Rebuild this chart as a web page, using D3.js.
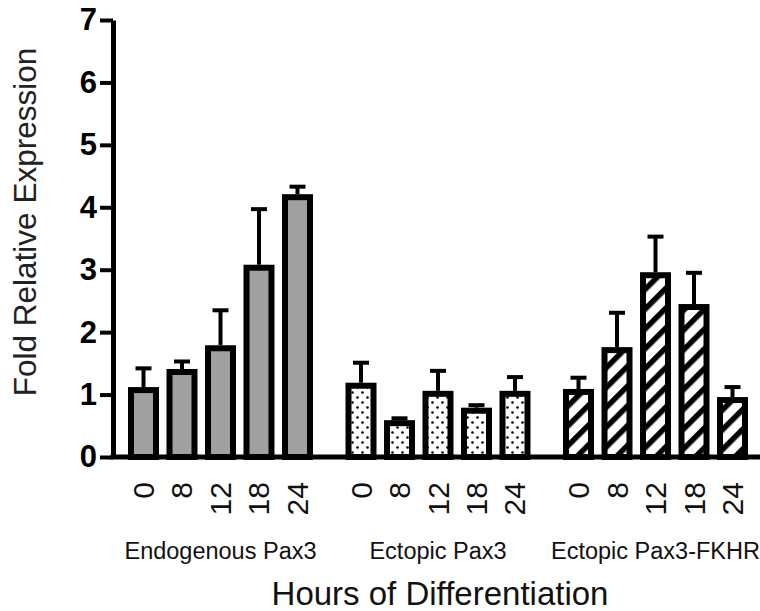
<!DOCTYPE html>
<html>
<head>
<meta charset="utf-8">
<script src="https://cdn.jsdelivr.net/npm/d3@7"></script>
<style>
  body { margin: 0; background: #fff; }
  text { font-family: "Liberation Sans", Arial, sans-serif; }
</style>
</head>
<body>
<script>
// Data
let groups = ['Endogenous Pax3', 'Ectopic Pax3', 'Ectopic Pax3-FKHR'];
let hours = ['0', '8', '12', '18', '24'];
let endogenousMean = [1.12, 1.41, 1.79, 3.08, 4.21];
let endogenousErr = [0.30, 0.12, 0.56, 0.89, 0.12];
let ectopicMean = [1.19, 0.59, 1.06, 0.79, 1.06];
let ectopicErr = [0.32, 0.03, 0.32, 0.04, 0.22];
let fkhrMean = [1.09, 1.76, 2.96, 2.45, 0.96];
let fkhrErr = [0.18, 0.55, 0.57, 0.50, 0.16];
let yTicks = [0, 1, 2, 3, 4, 5, 6, 7];

let means = [endogenousMean, ectopicMean, fkhrMean];
let errs = [endogenousErr, ectopicErr, fkhrErr];
let fills = ['#a0a0a0', 'url(#dots)', 'url(#hatch)'];

let data = [];
groups.forEach((g, gi) => {
    hours.forEach((h, hi) => {
        data.push({ group: g, hour: h, value: means[gi][hi], err: errs[gi][hi], fill: fills[gi] });
    });
});

let width = 760, height = 611;
let axisX = 113;
let barStroke = 6;

let svg = d3
    .select('body')
    .append('svg')
    .attr('width', width)
    .attr('height', height);

// Patterns
let defs = svg.append('defs');

let dots = defs.append('pattern')
    .attr('id', 'dots')
    .attr('patternUnits', 'userSpaceOnUse')
    .attr('width', 10)
    .attr('height', 10);
dots.append('rect').attr('width', 10).attr('height', 10).attr('fill', '#fff');
dots.append('circle').attr('cx', 2.5).attr('cy', 2.5).attr('r', 1.3).attr('fill', '#000');
dots.append('circle').attr('cx', 7.5).attr('cy', 7.5).attr('r', 1.3).attr('fill', '#000');

let hatch = defs.append('pattern')
    .attr('id', 'hatch')
    .attr('patternUnits', 'userSpaceOnUse')
    .attr('width', 14)
    .attr('height', 14)
    .attr('patternTransform', 'rotate(45)');
hatch.append('rect').attr('width', 14).attr('height', 14).attr('fill', '#fff');
hatch.append('rect').attr('width', 5.5).attr('height', 14).attr('fill', '#000');

// Scales
let yScale = d3.scaleLinear()
    .domain([0, 7])
    .range([457, 20]);

let groupScale = d3.scaleBand()
    .domain(groups)
    .range([124.25, 751.75])
    .paddingInner(0.115)
    .paddingOuter(0);

let hourScale = d3.scaleBand()
    .domain(hours)
    .range([0, groupScale.bandwidth()])
    .paddingInner(0.195)
    .paddingOuter(0.0975);

// Bars
let bars = svg.append('g');

bars.selectAll('rect')
    .data(data)
    .enter()
    .append('rect')
    .attr('x', d => groupScale(d.group) + hourScale(d.hour) + barStroke / 2)
    .attr('y', d => yScale(d.value) + barStroke / 2)
    .attr('width', hourScale.bandwidth() - barStroke)
    .attr('height', d => yScale(0) - yScale(d.value) - barStroke / 2)
    .attr('fill', d => d.fill)
    .attr('stroke', '#000')
    .attr('stroke-width', barStroke);

// Error bars (upper only)
let errG = svg.append('g').attr('stroke', '#000').attr('stroke-width', 4);
let cx = d => groupScale(d.group) + hourScale(d.hour) + hourScale.bandwidth() / 2;

errG.selectAll('.stem')
    .data(data)
    .enter()
    .append('line')
    .attr('class', 'stem')
    .attr('x1', cx)
    .attr('x2', cx)
    .attr('y1', d => yScale(d.value))
    .attr('y2', d => yScale(d.value + d.err));

errG.selectAll('.cap')
    .data(data)
    .enter()
    .append('line')
    .attr('class', 'cap')
    .attr('x1', d => cx(d) - 8)
    .attr('x2', d => cx(d) + 8)
    .attr('y1', d => yScale(d.value + d.err))
    .attr('y2', d => yScale(d.value + d.err));

// Y axis
let yAxis = svg
    .append('g')
    .attr('transform', `translate(${axisX},0)`)
    .call(d3.axisLeft(yScale)
        .tickValues(yTicks)
        .tickFormat(d3.format('d'))
        .tickSize(13)
        .tickSizeOuter(0)
        .tickPadding(3));

yAxis.select('.domain').attr('stroke', '#000').attr('stroke-width', 5);
yAxis.selectAll('.tick line').attr('stroke', '#000').attr('stroke-width', 4);
yAxis.selectAll('.tick text')
    .style('font-family', '"Liberation Sans", Arial, sans-serif')
    .style('font-size', '31px')
    .style('font-weight', 'bold')
    .attr('fill', '#000');

svg.append('text')
    .attr('transform', `translate(36,222) rotate(-90)`)
    .attr('text-anchor', 'middle')
    .style('font-size', '31.5px')
    .attr('fill', '#222')
    .text('Fold Relative Expression');

// X axis baseline
svg.append('line')
    .attr('x1', axisX - 2.5)
    .attr('x2', width)
    .attr('y1', yScale(0))
    .attr('y2', yScale(0))
    .attr('stroke', '#000')
    .attr('stroke-width', 5);

// Hour labels per group
groups.forEach(g => {
    let ax = svg.append('g')
        .attr('transform', `translate(${groupScale(g)},${yScale(0)})`)
        .call(d3.axisBottom(hourScale).tickSize(0));
    ax.select('.domain').remove();
    ax.selectAll('.tick text')
        .attr('transform', 'rotate(-90)')
        .attr('x', -25)
        .attr('y', 0)
        .attr('dy', '0.35em')
        .style('text-anchor', 'end')
        .style('font-family', '"Liberation Sans", Arial, sans-serif')
        .style('font-size', '30px')
        .attr('fill', '#111');
});

// Group labels
svg.append('g')
    .selectAll('text')
    .data(groups)
    .enter()
    .append('text')
    .attr('x', d => groupScale(d) + groupScale.bandwidth() / 2)
    .attr('y', 559)
    .attr('text-anchor', 'middle')
    .style('font-size', '23.5px')
    .attr('fill', '#111')
    .text(d => d);

svg.append('text')
    .attr('x', 440)
    .attr('y', 605)
    .attr('text-anchor', 'middle')
    .style('font-size', '33px')
    .attr('fill', '#111')
    .text('Hours of Differentiation');
</script>
</body>
</html>
